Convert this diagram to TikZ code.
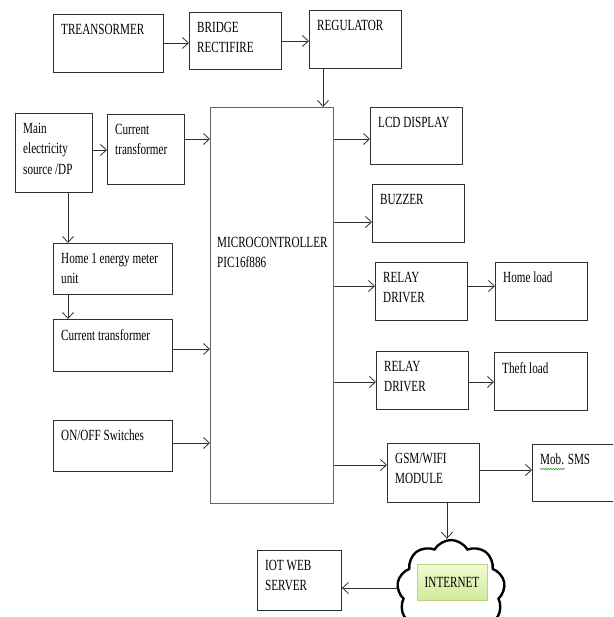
\documentclass[tikz,border=0pt]{standalone}
\usepackage{fontspec}
\setmainfont[FakeStretch=0.72]{Liberation Serif}
\usetikzlibrary{arrows.meta,shapes.symbols,decorations.pathmorphing}
\definecolor{ln}{HTML}{303030}
\definecolor{gtop}{HTML}{F2FAD0}
\definecolor{gbot}{HTML}{D2EA9A}
\definecolor{gbrd}{HTML}{B8D48A}
\tikzset{
  blk/.style={draw=ln, line width=0.9pt, rectangle, inner sep=0pt, anchor=north west},
  txt/.style={anchor=north west, inner sep=0pt, align=left, font=\fontsize{15.5}{20.5}\selectfont, text=black},
  arr/.style={draw=ln, line width=0.8pt, -{Straight Barb[length=6pt,width=11pt,line width=0.8pt]}},
}
\newcommand{\blkbox}[6]{%
  \node[blk, minimum width=#4-#2, minimum height=#5-#3] (#1) at (#2,#3) {};
  \node[txt] (#1t) at ([shift={(8,10)}]#1.north west) {#6};
}
\begin{document}
\begin{tikzpicture}[x=1pt,y=-1pt]
\clip (0,0) rectangle (613,617);
\fill[white] (0,0) rectangle (613,617);
% top row
\blkbox{tr}{53}{14}{163}{72}{TREANSORMER}
\blkbox{br}{189}{12}{281}{69}{BRIDGE\\RECTIFIRE}
\blkbox{reg}{309}{10}{401}{68}{REGULATOR}
% left column
\blkbox{mains}{15}{113}{92}{192}{Main\\electricity\\source /DP}
\blkbox{cta}{107}{114}{184}{184}{Current\\transformer}
\blkbox{home}{53}{243}{172}{294}{Home 1 energy meter\\unit}
\blkbox{ctb}{53}{319}{172}{371}{Current transformer}
\blkbox{onoff}{53}{420}{172}{471}{ON/OFF Switches}
% microcontroller
\node[blk, draw=black!60, minimum width=123, minimum height=396] (mcu) at (210,107) {};
\node[txt] (mcut) at (217,237) {MICROCONTROLLER\\PIC16f886};
% right column
\blkbox{lcd}{370}{107}{462}{164}{LCD DISPLAY}
\blkbox{buz}{372}{184}{464}{242}{BUZZER}
\blkbox{rla}{375}{262}{467}{320}{RELAY\\DRIVER}
\blkbox{hl}{495}{262}{587}{320}{Home load}
\blkbox{rlb}{376}{351}{468}{409}{RELAY\\DRIVER}
\blkbox{tl}{494}{352}{587}{410}{Theft load}
\blkbox{gsm}{387}{443}{479}{502}{GSM/WIFI\\MODULE}
\blkbox{sms}{532}{444}{625}{501}{Mob. SMS}
\blkbox{iot}{257}{550}{341}{610}{IOT WEB\\SERVER}
% spell-check squiggle
\draw[green!60!black, line width=0.5pt, decorate, decoration={snake, amplitude=0.6pt, segment length=2.5pt}] ([shift={(0,15)}]smst.north west) -- ++(25,0);
% cloud
\node[cloud, cloud puffs=9, cloud puff arc=120, aspect=1.05, draw=black, line width=2.4pt, fill=white, minimum width=108, minimum height=102, inner sep=0pt] (cloud) at (451,591) {};
\node[draw=gbrd, line width=0.6pt, top color=gtop, bottom color=gbot, minimum width=70, minimum height=36, inner sep=0pt, font=\fontsize{15.5}{20}\selectfont] (inet) at (452,582) {INTERNET};
% connectors
\draw[arr] (tr.east |- 0,43) -- (br.west |- 0,43);
\draw[arr] (br.east |- 0,41) -- (reg.west |- 0,41);
\draw[arr] (reg.south -| 323,0) -- (mcu.north -| 323,0);
\draw[arr] (mains.east |- 0,150) -- (cta.west |- 0,150);
\draw[arr] (cta.east |- 0,139) -- (mcu.west |- 0,139);
\draw[arr] (mains.south -| 68,0) -- (home.north -| 68,0);
\draw[arr] (home.south -| 68,0) -- (ctb.north -| 68,0);
\draw[arr] (ctb.east |- 0,349) -- (mcu.west |- 0,349);
\draw[arr] (onoff.east |- 0,443) -- (mcu.west |- 0,443);
\draw[arr] (mcu.east |- 0,139) -- (lcd.west |- 0,139);
\draw[arr] (mcu.east |- 0,222) -- (buz.west |- 0,222);
\draw[arr] (mcu.east |- 0,286) -- (rla.west |- 0,286);
\draw[arr] (rla.east |- 0,286) -- (hl.west |- 0,286);
\draw[arr] (mcu.east |- 0,382) -- (rlb.west |- 0,382);
\draw[arr] (rlb.east |- 0,382) -- (tl.west |- 0,382);
\draw[arr] (mcu.east |- 0,465) -- (gsm.west |- 0,465);
\draw[arr] (gsm.east |- 0,470) -- (sms.west |- 0,470);
\draw[arr] (gsm.south -| 447,0) -- (cloud.north -| 447,0);
\draw[arr] (cloud.west |- 0,588) -- (iot.east |- 0,588);
\end{tikzpicture}
\end{document}
